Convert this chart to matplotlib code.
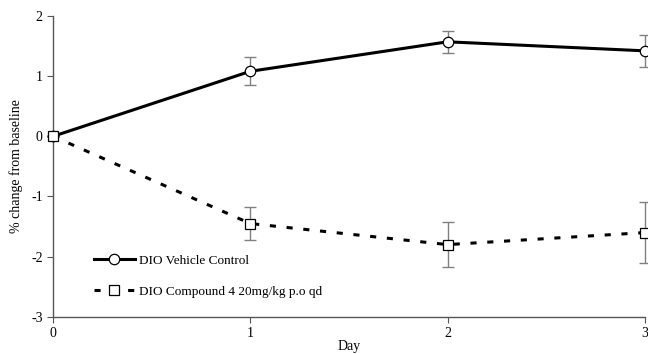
import matplotlib
matplotlib.use("Agg")
import matplotlib.pyplot as plt

plt.rcParams['font.family'] = ['Liberation Serif', 'DejaVu Serif']
plt.rcParams['axes.unicode_minus'] = False

days = [0, 1, 2, 3]
vehicle = [0.0, 1.08, 1.57, 1.42]
vehicle_err = [0.0, 0.23, 0.18, 0.27]
compound = [0.0, -1.45, -1.80, -1.60]
compound_err = [0.0, 0.27, 0.38, 0.50]

fig = plt.figure(figsize=(6.48, 3.54), dpi=100)
ax = fig.add_axes([0.082, 0.105, 0.913, 0.850])

# vehicle control
ax.errorbar(days, vehicle, yerr=vehicle_err, fmt='none', ecolor='#808080',
            elinewidth=1.0, capsize=4, capthick=1.0, zorder=2, clip_on=False)
ax.plot(days, vehicle, '-', color='black', lw=2.2, marker='o', ms=7.5,
        mfc='white', mec='black', mew=0.9, zorder=3, clip_on=False,
        label='DIO Vehicle Control')

# compound 4
ax.errorbar(days, compound, yerr=compound_err, fmt='none', ecolor='#808080',
            elinewidth=1.0, capsize=4, capthick=1.0, zorder=2, clip_on=False)
ax.plot(days, compound, color='black', lw=2.2, linestyle=(0, (2, 3.5)),
        marker='s', ms=7.5, mfc='white', mec='black', mew=0.9, zorder=3,
        clip_on=False, label='DIO Compound 4 20mg/kg p.o qd')

ax.set_xlim(0, 3)
ax.set_ylim(-3, 2)
ax.set_xticks([0, 1, 2, 3])
ax.set_yticks([-3, -2, -1, 0, 1, 2])
ax.set_xlabel('Day', fontsize=10, labelpad=0)
ax.set_ylabel('% change from baseline', fontsize=10, labelpad=6)
ax.tick_params(labelsize=10, direction='out', length=4, width=0.8, color='#555555')
ax.spines['top'].set_visible(False)
ax.spines['right'].set_visible(False)
for s in ['left', 'bottom']:
    ax.spines[s].set_color('#555555')
    ax.spines[s].set_linewidth(1.0)

ax.legend(loc='lower left', bbox_to_anchor=(0.06, 0.045), frameon=False,
          fontsize=9.5, handlelength=3.1, handletextpad=0.3, labelspacing=1.45,
          borderaxespad=0)

fig.savefig('out.png', dpi=100)
